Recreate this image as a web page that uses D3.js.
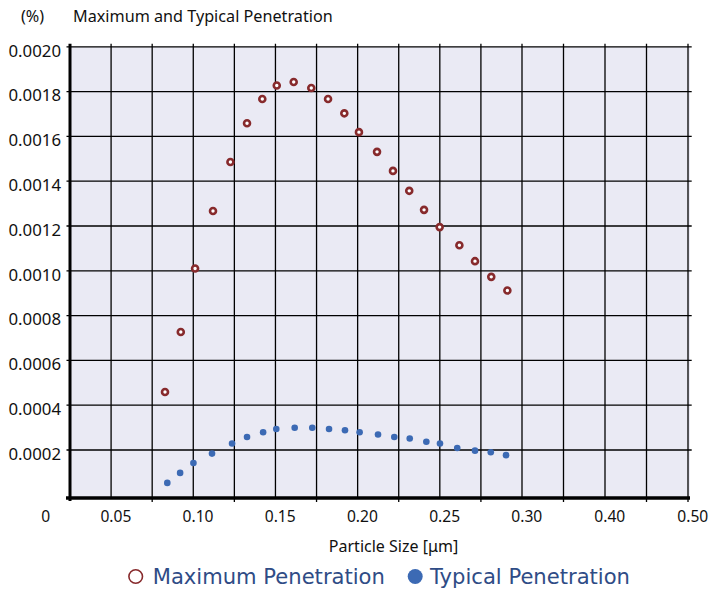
<!DOCTYPE html>
<html>
<head>
<meta charset="utf-8">
<script src="https://cdn.jsdelivr.net/npm/d3@7"></script>
<style>
  html, body { margin: 0; padding: 0; background: #ffffff; }
  svg { display: block; }
</style>
</head>
<body>
<svg id="chart" width="723" height="589"></svg>
<script>
// ---- Data ----
const titleText = "Maximum and Typical Penetration";
const unitText = "(%)";
const xAxisTitle = "Particle Size [\u03bcm]";
const seriesNames = ["Maximum Penetration", "Typical Penetration"];

const sizesMax = [0.0828, 0.0924, 0.1011, 0.1120, 0.1226, 0.1327, 0.1420, 0.1508, 0.1611, 0.1718, 0.1820,
                  0.1919, 0.2008, 0.2118, 0.2215, 0.2314, 0.2404, 0.2499, 0.2619, 0.2714, 0.2813, 0.2911];
const maxPen = [0.000459, 0.000727, 0.001010, 0.001267, 0.001486, 0.001659, 0.001767, 0.001827, 0.001843, 0.001816, 0.001767,
                0.001703, 0.001619, 0.001531, 0.001446, 0.001357, 0.001272, 0.001195, 0.001114, 0.001043, 0.000973, 0.000912];

const sizesTyp = [0.0842, 0.0920, 0.1001, 0.1114, 0.1236, 0.1327, 0.1425, 0.1505, 0.1617, 0.1724, 0.1826,
                  0.1923, 0.2012, 0.2124, 0.2223, 0.2317, 0.2418, 0.2501, 0.2606, 0.2714, 0.2810, 0.2903];
const typPen = [0.0000531, 0.0000978, 0.000142, 0.000184, 0.000229, 0.000258, 0.000279, 0.000294, 0.000299, 0.000299, 0.000294,
                0.000288, 0.000279, 0.000269, 0.000258, 0.000251, 0.000237, 0.000229, 0.000209, 0.000197, 0.000190, 0.000177];

const xTickValues = [0.05, 0.10, 0.15, 0.20, 0.25, 0.30, 0.40, 0.50];
const xTickLabels = ["0.05", "0.10", "0.15", "0.20", "0.25", "0.30", "0.40", "0.50"];
const xMinorValues = [0.075, 0.125, 0.175, 0.225, 0.275, 0.35, 0.45];
const yTickValues = [0.0002, 0.0004, 0.0006, 0.0008, 0.0010, 0.0012, 0.0014, 0.0016, 0.0018, 0.0020];
const originLabel = "0";

// ---- Layout ----
const pLeft = 70, pRight = 688, pTop = 46.8, pBottom = 498;
const svg = d3.select("#chart");
const font = "'Noto Sans', 'Open Sans', sans-serif";

const x = d3.scaleLinear().domain([0.025, 0.30, 0.50]).range([pLeft, 522, pRight]);
const y = d3.scaleLinear().domain([-0.0000143, 0.0020]).range([pBottom, pTop]);

// background
svg.append("rect")
  .attr("x", pLeft).attr("y", pTop)
  .attr("width", pRight + 2 - pLeft).attr("height", pBottom - pTop)
  .attr("fill", "#eaeaf4");

// vertical grid lines
const allX = xTickValues.concat(xMinorValues);
svg.append("g").selectAll("line").data(allX).join("line")
  .attr("x1", d => x(d)).attr("x2", d => x(d))
  .attr("y1", pTop - 3)
  .attr("y2", d => xMinorValues.includes(d) || d === 0.50 ? pBottom + 4 : pBottom)
  .attr("stroke", "#000").attr("stroke-width", 1.3);

// horizontal grid lines
svg.append("g").selectAll("line").data(yTickValues).join("line")
  .attr("x1", pLeft - 3.5).attr("x2", pRight + 3.7)
  .attr("y1", d => y(d)).attr("y2", d => y(d))
  .attr("stroke", "#000").attr("stroke-width", 1.3);

// axes lines (thick)
svg.append("line")
  .attr("x1", pLeft).attr("x2", pLeft)
  .attr("y1", pTop - 3).attr("y2", pBottom + 3)
  .attr("stroke", "#000").attr("stroke-width", 3);
svg.append("line")
  .attr("x1", pLeft - 4).attr("x2", pRight + 2)
  .attr("y1", pBottom).attr("y2", pBottom)
  .attr("stroke", "#000").attr("stroke-width", 3.4);

// y labels
svg.append("g").selectAll("text").data(yTickValues).join("text")
  .attr("x", 61).attr("y", d => y(d) + 9.8)
  .attr("text-anchor", "end")
  .attr("font-family", font).attr("font-size", 16.8)
  .attr("fill", "#111")
  .text(d => d3.format(".4f")(d));

// x labels
svg.append("g").selectAll("text").data(xTickValues).join("text")
  .attr("x", d => x(d) + 4.8).attr("y", 521.5)
  .attr("text-anchor", "middle")
  .attr("font-family", font).attr("font-size", 15.6)
  .attr("fill", "#111")
  .text((d, i) => xTickLabels[i]);
svg.append("text")
  .attr("x", 45.8).attr("y", 521.5)
  .attr("text-anchor", "middle")
  .attr("font-family", font).attr("font-size", 15.6)
  .attr("fill", "#111")
  .text(originLabel);

// titles
svg.append("text").attr("x", 21).attr("y", 21.7)
  .attr("font-family", font).attr("font-size", 16.2).attr("fill", "#111")
  .text(unitText);
svg.append("text").attr("x", 73).attr("y", 21.7)
  .attr("font-family", font).attr("font-size", 16.2).attr("fill", "#111")
  .text(titleText);
svg.append("text").attr("x", 393.5).attr("y", 552)
  .attr("text-anchor", "middle")
  .attr("font-family", font).attr("font-size", 16).attr("fill", "#111")
  .text(xAxisTitle);

// data: typical (filled blue)
const blue = "#3c6ab4";
const red = "#872a2c";
svg.append("g").selectAll("circle").data(typPen).join("circle")
  .attr("cx", (d, i) => x(sizesTyp[i]))
  .attr("cy", d => y(d))
  .attr("r", 3.3)
  .attr("fill", blue);

// data: maximum (open red)
svg.append("g").selectAll("circle").data(maxPen).join("circle")
  .attr("cx", (d, i) => x(sizesMax[i]))
  .attr("cy", d => y(d))
  .attr("r", 3.0)
  .attr("fill", "#ffffff")
  .attr("stroke", red)
  .attr("stroke-width", 2.6);

// legend
const legFont = "'DejaVu Sans', Verdana, sans-serif";
const legColor = "#2f4c86";
svg.append("circle").attr("cx", 135.7).attr("cy", 576.5).attr("r", 6.8)
  .attr("fill", "none").attr("stroke", red).attr("stroke-width", 1.6);
svg.append("text").attr("x", 152.7).attr("y", 584)
  .attr("font-family", legFont).attr("font-size", 21.1).attr("fill", legColor)
  .text(seriesNames[0]);
svg.append("circle").attr("cx", 415.2).attr("cy", 576.5).attr("r", 7.5)
  .attr("fill", blue);
svg.append("text").attr("x", 430).attr("y", 584)
  .attr("font-family", legFont).attr("font-size", 21.1).attr("fill", legColor)
  .text(seriesNames[1]);
</script>
</body>
</html>
